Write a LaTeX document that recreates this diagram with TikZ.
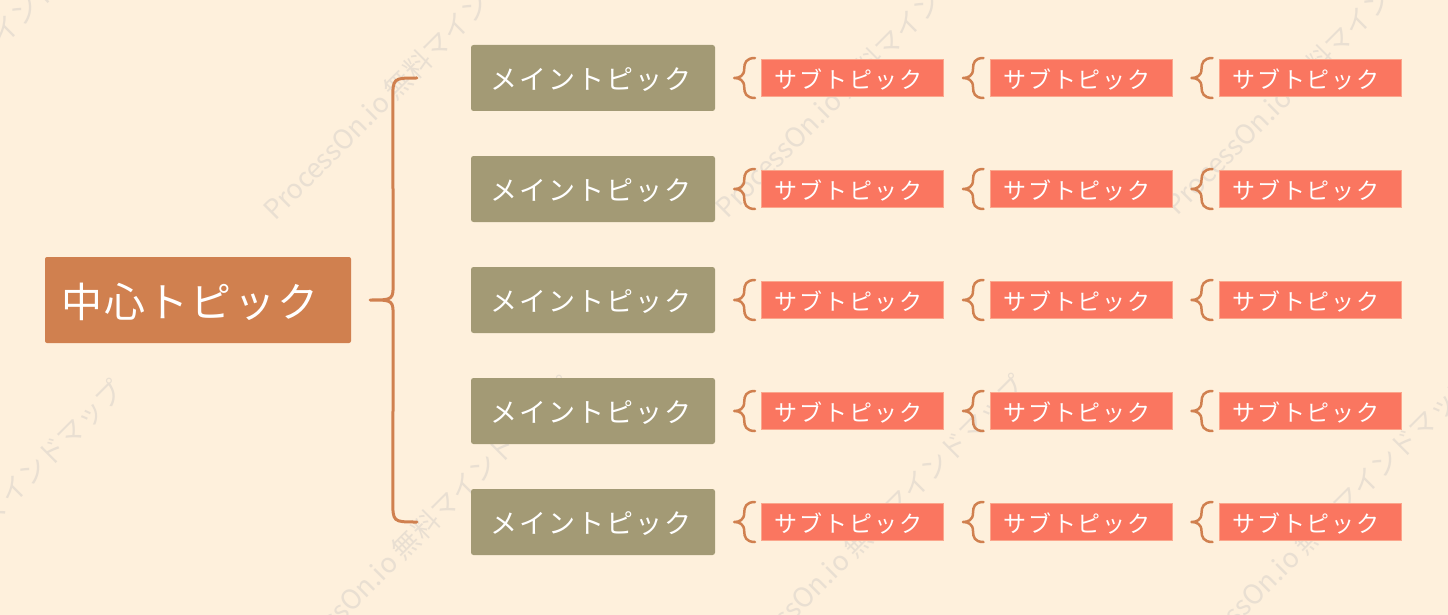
\documentclass[tikz,border=0pt]{standalone}
\usepackage{fontspec}
\setmainfont{Noto Sans CJK JP}
\newfontfamily\jpa[LetterSpace=5]{Noto Sans CJK JP}
\newfontfamily\jpb[LetterSpace=7]{Noto Sans CJK JP}
\newfontfamily\jpc[LetterSpace=8]{Noto Sans CJK JP}
\usetikzlibrary{calc}
\definecolor{bgc}{HTML}{FEF0DC}
\definecolor{cenc}{HTML}{D0804F}
\definecolor{mainc}{HTML}{A39A75}
\definecolor{subc}{HTML}{FA7660}
\definecolor{subb}{HTML}{FBA68C}
\definecolor{bracec}{HTML}{D0804F}
\definecolor{wmc}{HTML}{E9DFD2}
\newcommand\mybrace[2]{%
  \draw[brces]
    ($(#2.west)+(-6,-20)$) .. controls ($(#2.west)+(-15,-20)$) and ($(#1.east)+(29,-15)$) ..
    ($(#1.east)+(29,-9)$) .. controls ($(#1.east)+(29,-2)$) and ($(#1.east)+(24,0)$) ..
    ($(#1.east)+(19,0)$) .. controls ($(#1.east)+(24,0)$) and ($(#1.east)+(29,2)$) ..
    ($(#1.east)+(29,9)$) .. controls ($(#1.east)+(29,15)$) and ($(#2.west)+(-15,20)$) ..
    ($(#2.west)+(-6,20)$);}
\begin{document}
\begin{tikzpicture}[x=1pt,y=-1pt,
  central/.style={fill=cenc, rounded corners=2pt, minimum width=306pt, minimum height=86pt,
    inner sep=0pt, text=white},
  ctext/.style={text=white, inner sep=0pt, font=\jpa\fontsize{41}{48}\selectfont},
  maintopic/.style={fill=mainc, rounded corners=2.5pt, minimum width=244pt, minimum height=66pt,
    inner sep=0pt},
  mtext/.style={text=white, inner sep=0pt, font=\jpb\fontsize{27}{32}\selectfont},
  subtopic/.style={fill=subc, draw=subb, line width=1pt, minimum width=182pt, minimum height=37pt,
    inner sep=0pt},
  stext/.style={text=white, inner sep=0pt, font=\jpc\fontsize{23}{28}\selectfont},
  bracel/.style={draw=bracec, line width=3pt, line cap=round, line join=round},
  brces/.style={draw=bracec, line width=2.5pt, line cap=round, line join=round},
  wm/.style={rotate=45, anchor=base west, text=wmc, inner sep=0pt, font=\fontsize{27}{32}\selectfont}]
\useasboundingbox (0,0) rectangle (1448,615);
\fill[bgc] (0,0) rectangle (1448,615);
% watermarks
\foreach \wx/\wy [count=\k] in {-175/225, 275/222, 727/220, 1177/217, -167/685, 283/682, 735/680, 1185/677}
  \node[wm] (w\k) at (\wx,\wy) {ProcessOn.io 無料マインドマップ};
% central
\node[central] (c) at (198,300) {};
\node[ctext] (ct) at ($(c.center)+(-8,2)$) {中心トピック};
% main topics and subtopics
\foreach \i in {1,...,5}{
  \pgfmathsetmacro\yy{78+111*(\i-1)}
  \node[maintopic] (m\i) at (593,\yy) {};
  \node[mtext] (mt\i) at ($(m\i.center)+(-2,2)$) {メイントピック};
  \foreach \j/\xx in {a/852.5, b/1081, c/1310}{
    \node[subtopic] (s\i\j) at (\xx,\yy) {};
    \node[stext] (st\i\j) at ($(s\i\j.center)+(-4,2)$) {サブトピック};
  }
  \mybrace{m\i}{s\i a}
  \mybrace{s\i a}{s\i b}
  \mybrace{s\i b}{s\i c}
}
% big brace
\coordinate (bt) at ($(c.east)+(19,0)$);
\coordinate (b1) at ($(m1.west)+(-54,0)$);
\coordinate (b5) at ($(m5.west)+(-54,0)$);
\draw[bracel] (b1) .. controls ($(b1)+(-24,0)$) .. ($(b1)+(-24,22)$)
  -- ($(bt)+(23,-18)$) .. controls ($(bt)+(23,0)$) .. (bt)
  .. controls ($(bt)+(23,0)$) .. ($(bt)+(23,18)$)
  -- ($(b5)+(-24,-22)$) .. controls ($(b5)+(-24,0)$) .. (b5);
\end{tikzpicture}
\end{document}
